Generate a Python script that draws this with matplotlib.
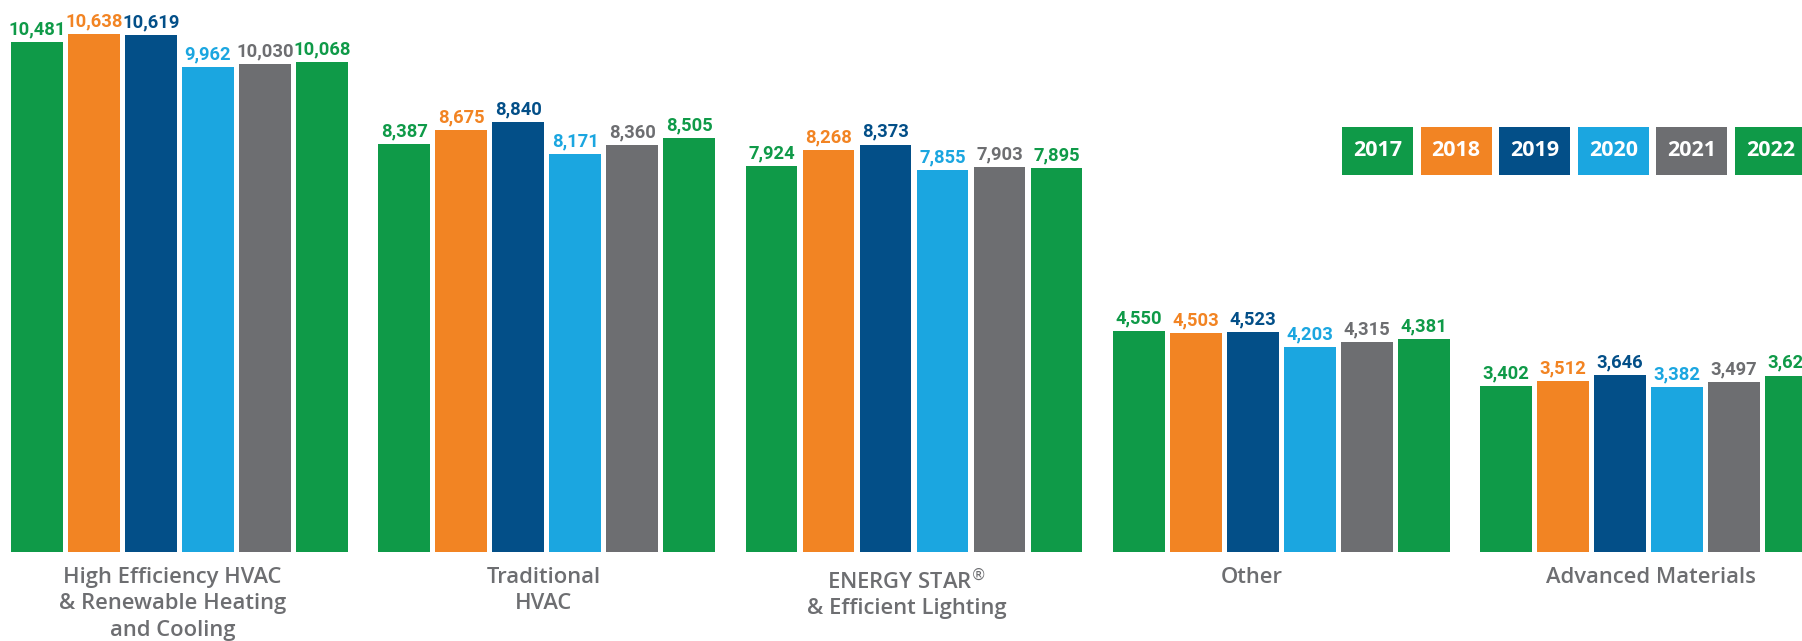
import matplotlib.pyplot as plt
from matplotlib.patches import Rectangle

categories = [
    "High Efficiency HVAC\n& Renewable Heating\nand Cooling",
    "Traditional\nHVAC",
    "ENERGY STAR$^{®}$\n& Efficient Lighting",
    "Other",
    "Advanced Materials",
]
years = ["2017", "2018", "2019", "2020", "2021", "2022"]
colors = ["#0f9a48", "#f28423", "#034f88", "#1ba6e0", "#6d6e71", "#0f9a48"]

v2017 = [10481, 8387, 7924, 4550, 3402]
v2018 = [10638, 8675, 8268, 4503, 3512]
v2019 = [10619, 8840, 8373, 4523, 3646]
v2020 = [9962, 8171, 7855, 4203, 3382]
v2021 = [10030, 8360, 7903, 4315, 3497]
v2022 = [10068, 8505, 7895, 4381, 3627]
series = [v2017, v2018, v2019, v2020, v2021, v2022]

W, H = 1802, 641
fig = plt.figure(figsize=(W / 100, H / 100), dpi=100)
base = 552  # baseline, px from top
ax = fig.add_axes([0, (H - base) / H, 1, base / H])

group_step = 6.443
bar_w = 0.912
num_font = ["Liberation Sans Narrow", "Roboto", "DejaVu Sans"]
cat_font = ["Open Sans", "DejaVu Sans"]

for j, (vals, col) in enumerate(zip(series, colors)):
    xs = [i * group_step + j for i in range(len(categories))]
    ax.bar(xs, vals, width=bar_w, color=col, linewidth=0)
    for x, v in zip(xs, vals):
        ax.annotate(f"{v:,}", (x, v), xytext=(0, 5.5), textcoords="offset points",
                    ha="center", va="baseline", color=col, fontsize=13.2,
                    fontweight="bold", family=num_font, annotation_clip=False)

# small nudges (points) for the group captions
cat_dx = [-5, -2, -5, -21, 2]
for i, cat in enumerate(categories):
    gx = i * group_step + 2.5
    ax.annotate(cat, (gx, 0), xycoords=("data", "axes fraction"), xytext=(cat_dx[i], -11),
                textcoords="offset points", ha="center", va="top", color="#6d6e71",
                fontsize=15.8, fontweight="semibold", family=cat_font,
                linespacing=1.32, annotation_clip=False)

ax.set_xlim(-37 / 57, (W - 37) / 57)
ax.set_ylim(0, base / 0.04866)
ax.axis("off")

# year key as coloured tiles
for k, (yr, col) in enumerate(zip(years, colors)):
    x0 = 1342 + k * 78.6
    fig.add_artist(Rectangle((x0 / W, (H - 175) / H), 71 / W, 48 / H,
                             transform=fig.transFigure, color=col, linewidth=0))
    fig.text((x0 + 35.5) / W, (H - 151) / H, yr, ha="center", va="center",
             color="white", fontsize=15.5, fontweight="bold", family=cat_font)

fig.savefig("out.png", dpi=100)
